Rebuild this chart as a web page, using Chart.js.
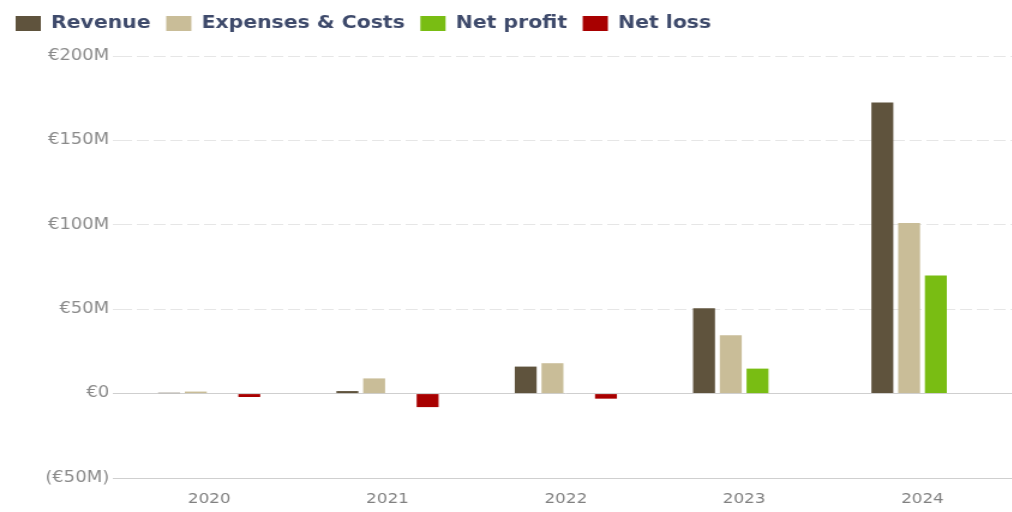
<!DOCTYPE html>
<html>
<head>
<meta charset="utf-8">
<script src="https://cdn.jsdelivr.net/npm/chart.js@4/dist/chart.umd.min.js"></script>
<style>
  html, body { margin: 0; padding: 0; background: #fff; overflow: hidden; }
  /* the chart is drawn narrow and widened, which gives the broad lettering */
  #fin__chart { transform: scaleX(1.2); transform-origin: 0 0; }
</style>
</head>
<body>
<canvas id="fin__chart" width="843" height="512"></canvas>
<script>
// yearly figures, in millions of euro
var years = ['2020', '2021', '2022', '2023', '2024'];
var revenue = [0.5, 1.5, 16, 50.5, 172.5];
var expenses = [1.2, 9, 18, 34.5, 101];
var netProfit = [null, null, null, 14.8, 70];
var netLoss = [-2, -8, -3, null, null];
var yTicks = [-50, 0, 50, 100, 150, 200];

function euro(v) {
    if (v < 0) return '(€' + Math.abs(v) + 'M)';
    if (v === 0) return '€0';
    return '€' + v + 'M';
}

// extra room under the legend
var legendGap = {
    id: 'legendGap',
    beforeInit: function (chart) {
        var fit = chart.legend.fit;
        chart.legend.fit = function () {
            fit.bind(chart.legend)();
            this.height += 14;
        };
    }
};

var ctx = document.getElementById('fin__chart');
var fin__chart = new Chart(ctx, {
    type: 'bar',
    data: {
        labels: years,
        datasets: [{
            label: 'Revenue',
            data: revenue,
            backgroundColor: '#5f533d'
        }, {
            label: 'Expenses & Costs',
            data: expenses,
            backgroundColor: '#c9bd98'
        }, {
            label: 'Net profit',
            data: netProfit,
            backgroundColor: '#79bd13'
        }, {
            label: 'Net loss',
            data: netLoss,
            backgroundColor: '#a80000'
        }]
    },
    plugins: [legendGap],
    options: {
        responsive: false,
        animation: false,
        devicePixelRatio: 1,
        categoryPercentage: 0.6,
        barPercentage: 0.82,
        layout: {
            padding: { left: 0, right: 0, top: 2, bottom: 0 }
        },
        plugins: {
            tooltip: { enabled: false },
            legend: {
                align: 'start',
                labels: {
                    boxWidth: 21,
                    boxHeight: 15,
                    padding: 13,
                    color: '#3e4a6b',
                    font: { family: 'DejaVu Sans', size: 17, weight: 'bold' }
                }
            }
        },
        scales: {
            x: {
                afterFit: function (axis) { axis.height = 34; },
                grid: { display: false },
                border: { display: true, color: '#cfcfcf', width: 1 },
                ticks: {
                    color: '#808080',
                    padding: 5,
                    font: { family: 'DejaVu Sans', size: 14 }
                }
            },
            y: {
                min: -50,
                max: 200,
                afterFit: function (axis) { axis.width = 100; },
                afterBuildTicks: function (axis) {
                    axis.ticks = yTicks.map(function (v) { return { value: v }; });
                },
                grid: {
                    color: function (c) {
                        var v = c.tick && c.tick.value;
                        return (v === 0 || v === -50) ? '#cfcfcf' : '#e6e6e6';
                    },
                    lineWidth: 1,
                    tickLength: 6
                },
                border: {
                    display: false,
                    dash: function (c) {
                        var v = c.tick && c.tick.value;
                        return (v === 0 || v === -50) ? [] : [10, 4];
                    }
                },
                ticks: {
                    color: '#8a8a8a',
                    padding: 3,
                    font: { family: 'DejaVu Sans', size: 15 },
                    callback: function (v) { return euro(v); }
                }
            }
        }
    }
});
</script>
</body>
</html>
